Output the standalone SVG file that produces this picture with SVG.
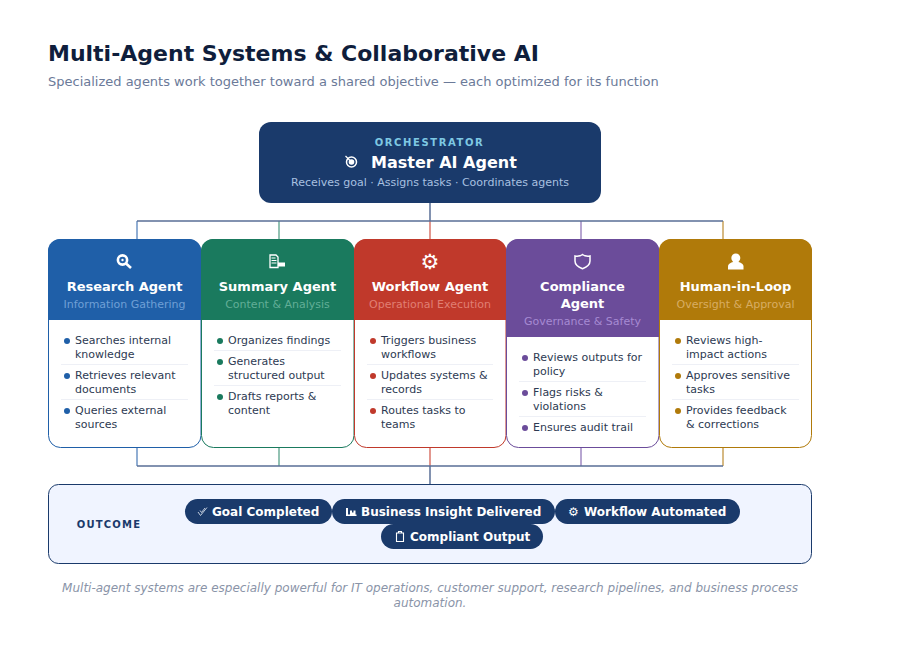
<svg xmlns="http://www.w3.org/2000/svg" width="900" height="658" viewBox="0 0 900 658">
<style>
text{font-family:"DejaVu Sans",sans-serif}
.c{text-anchor:middle}
.nm{font-size:13px;font-weight:700;fill:#fff;text-anchor:middle}
.sb{font-size:11px;text-anchor:middle}
.li{font-size:11px;fill:#2d3a52}
.sep{stroke:#eef0f6;stroke-width:1}
.pill{fill:#1a3a6b}
.pt{font-size:12px;font-weight:700;fill:#fff}
.cn{fill:none;stroke-width:1.5}
.card{fill:#fff;stroke-width:1}
.iw{fill:#fff}
.io{fill:none;stroke:#fff}
</style>
<rect width="900" height="658" fill="#fff"/>
<text x="48" y="61" fill="#0f1e3c" style="font-size:22px;font-weight:700">Multi-Agent Systems &amp; Collaborative AI</text>
<text x="48" y="86" style="font-size:13px" fill="#6b7a99">Specialized agents work together toward a shared objective — each optimized for its function</text>
<g id="connectors">
<path class="cn" stroke="#6c93c4" d="M137 221V239"/>
<path class="cn" stroke="#6fae9a" d="M279 221V239"/>
<path class="cn" stroke="#d9746a" d="M430 221V239"/>
<path class="cn" stroke="#9f88c2" d="M581 221V239"/>
<path class="cn" stroke="#c9a25a" d="M723 221V239"/>
<path class="cn" stroke="#6c93c4" d="M137 448V466"/>
<path class="cn" stroke="#6fae9a" d="M279 448V466"/>
<path class="cn" stroke="#d9746a" d="M430 448V466"/>
<path class="cn" stroke="#9f88c2" d="M581 448V466"/>
<path class="cn" stroke="#c9a25a" d="M723 448V466"/>
<path class="cn" stroke="#5a6f96" d="M430 203V221M137 221H723"/>
<path class="cn" stroke="#5a6f96" d="M137 466H723M430 466V484"/>
</g>
<g id="master">
<rect x="259" y="122" width="342" height="81" rx="12" fill="#1a3a6b"/>
<text x="429.500" y="146" class="c" style="font-size:10px;font-weight:700;letter-spacing:1.6px" fill="#7ec8e3">ORCHESTRATOR</text>
<g id="icon-target"><circle cx="351.500" cy="162" r="5" fill="none" stroke="#fff" stroke-width="1.5"/><circle cx="351.500" cy="162" r="2.800" fill="#fff"/><path d="M345.500 156l6 6" stroke="#fff" stroke-width="1.2"/></g>
<text x="371" y="168" style="font-size:16px;font-weight:700" fill="#fff">Master AI Agent</text>
<text x="430" y="186" class="c" style="font-size:11px" fill="#a8c0e0">Receives goal · Assigns tasks · Coordinates agents</text>
</g>
<g id="research">
<rect x="48.500" y="239.500" width="152.500" height="208" rx="12" class="card" stroke="#1f5fa8"/>
<path d="M48 320V251a12 12 0 0 1 12-12H189a12 12 0 0 1 12 12V320Z" fill="#1f5fa8"/>
<g><circle cx="122.500" cy="260" r="4.600" class="io" stroke-width="2.600"/><circle cx="122.500" cy="260" r="1.200" class="iw"/><path d="M126 263.500l5 4.500" class="io" stroke-width="2.600"/></g>
<text x="124.500" y="291" class="nm">Research Agent</text>
<text x="124.500" y="308" class="sb" fill="#6f9fd6">Information Gathering</text>
<circle cx="67" cy="341" r="3" fill="#1f5fa8"/><text x="75" y="344" class="li">Searches internal</text><text x="75" y="358" class="li">knowledge</text>
<line x1="61" x2="188" y1="364.500" y2="364.500" class="sep"/>
<circle cx="67" cy="376" r="3" fill="#1f5fa8"/><text x="75" y="379" class="li">Retrieves relevant</text><text x="75" y="393" class="li">documents</text>
<line x1="61" x2="188" y1="399.500" y2="399.500" class="sep"/>
<circle cx="67" cy="411" r="3" fill="#1f5fa8"/><text x="75" y="414" class="li">Queries external</text><text x="75" y="428" class="li">sources</text>
</g>
<g id="summary">
<rect x="201.500" y="239.500" width="152.500" height="208" rx="12" class="card" stroke="#1a7a5e"/>
<path d="M201 320V251a12 12 0 0 1 12-12H342a12 12 0 0 1 12 12V320Z" fill="#1a7a5e"/>
<g><path d="M270 255h6l2 2v10.500h-8Z" class="io" stroke-width="1.300"/><path d="M271.500 258h4M271.500 260.500h5M271.500 263h5" class="io" stroke-width="1"/><rect x="278" y="262.500" width="7" height="4" class="iw"/></g>
<text x="277.500" y="291" class="nm">Summary Agent</text>
<text x="277.500" y="308" class="sb" fill="#62ae97">Content &amp; Analysis</text>
<circle cx="220" cy="341" r="3" fill="#1a7a5e"/><text x="228" y="344" class="li">Organizes findings</text>
<line x1="214" x2="341" y1="350.500" y2="350.500" class="sep"/>
<circle cx="220" cy="362" r="3" fill="#1a7a5e"/><text x="228" y="365" class="li">Generates</text><text x="228" y="379" class="li">structured output</text>
<line x1="214" x2="341" y1="385.500" y2="385.500" class="sep"/>
<circle cx="220" cy="397" r="3" fill="#1a7a5e"/><text x="228" y="400" class="li">Drafts reports &amp;</text><text x="228" y="414" class="li">content</text>
</g>
<g id="workflow">
<rect x="354.500" y="239.500" width="151.500" height="208" rx="12" class="card" stroke="#c0392b"/>
<path d="M354 320V251a12 12 0 0 1 12-12H494a12 12 0 0 1 12 12V320Z" fill="#c0392b"/>
<text x="430" y="269" class="c" style="font-size:21px" fill="#fff">⚙</text>
<text x="430" y="291" class="nm">Workflow Agent</text>
<text x="430" y="308" class="sb" fill="#e07f73">Operational Execution</text>
<circle cx="373" cy="341" r="3" fill="#c0392b"/><text x="381" y="344" class="li">Triggers business</text><text x="381" y="358" class="li">workflows</text>
<line x1="367" x2="493" y1="364.500" y2="364.500" class="sep"/>
<circle cx="373" cy="376" r="3" fill="#c0392b"/><text x="381" y="379" class="li">Updates systems &amp;</text><text x="381" y="393" class="li">records</text>
<line x1="367" x2="493" y1="399.500" y2="399.500" class="sep"/>
<circle cx="373" cy="411" r="3" fill="#c0392b"/><text x="381" y="414" class="li">Routes tasks to</text><text x="381" y="428" class="li">teams</text>
</g>
<g id="compliance">
<rect x="506.500" y="239.500" width="152.500" height="208" rx="12" class="card" stroke="#6b4c9a"/>
<path d="M506 337V251a12 12 0 0 1 12-12H647a12 12 0 0 1 12 12V337Z" fill="#6b4c9a"/>
<path d="M582.500 254.500c2 1.500 4.500 2 7.500 1.500v5c0 3.500-3 6-7.500 7.800c-4.500-1.800-7.500-4.300-7.500-7.800v-5c3 .5 5.500 0 7.500-1.500Z" class="io" stroke-width="1.500"/>
<text x="582.500" y="291" class="nm">Compliance</text>
<text x="582.500" y="308" class="nm">Agent</text>
<text x="582.500" y="325" class="sb" fill="#a68ad2">Governance &amp; Safety</text>
<circle cx="525" cy="358" r="3" fill="#6b4c9a"/><text x="533" y="361" class="li">Reviews outputs for</text><text x="533" y="375" class="li">policy</text>
<line x1="519" x2="646" y1="381.500" y2="381.500" class="sep"/>
<circle cx="525" cy="393" r="3" fill="#6b4c9a"/><text x="533" y="396" class="li">Flags risks &amp;</text><text x="533" y="410" class="li">violations</text>
<line x1="519" x2="646" y1="416.500" y2="416.500" class="sep"/>
<circle cx="525" cy="428" r="3" fill="#6b4c9a"/><text x="533" y="431" class="li">Ensures audit trail</text>
</g>
<g id="human">
<rect x="659.500" y="239.500" width="152" height="208" rx="12" class="card" stroke="#b07a0a"/>
<path d="M659 320V251a12 12 0 0 1 12-12H800a12 12 0 0 1 12 12V320Z" fill="#b07a0a"/>
<g class="iw"><circle cx="735.800" cy="258" r="4.500"/><path d="M728 269.500v-3c0-2.500 3-4 5-4.500h5.500c2 .5 5 2 5 4.500v3Z"/></g>
<text x="735.500" y="291" class="nm">Human-in-Loop</text>
<text x="735.500" y="308" class="sb" fill="#d8ad62">Oversight &amp; Approval</text>
<circle cx="678" cy="341" r="3" fill="#b07a0a"/><text x="686" y="344" class="li">Reviews high-</text><text x="686" y="358" class="li">impact actions</text>
<line x1="672" x2="799" y1="364.500" y2="364.500" class="sep"/>
<circle cx="678" cy="376" r="3" fill="#b07a0a"/><text x="686" y="379" class="li">Approves sensitive</text><text x="686" y="393" class="li">tasks</text>
<line x1="672" x2="799" y1="399.500" y2="399.500" class="sep"/>
<circle cx="678" cy="411" r="3" fill="#b07a0a"/><text x="686" y="414" class="li">Provides feedback</text><text x="686" y="428" class="li">&amp; corrections</text>
</g>
<g id="outcome">
<rect x="48.500" y="484.500" width="763" height="79" rx="10" fill="#f0f4ff" stroke="#1a3a6b" stroke-width="1"/>
<text x="109" y="528" class="c" style="font-size:10px;font-weight:700;letter-spacing:1.200px" fill="#1a3a6b">OUTCOME</text>
<rect class="pill" x="185" y="499" width="147" height="25" rx="12.500"/>
<path d="M198 512l2.500 3.500 6.500-8M200 510.500l1.500 2 3.500-4.500" fill="none" stroke="#d5dde9" stroke-width=".9"/>
<text x="212" y="516" class="pt">Goal Completed</text>
<rect class="pill" x="332" y="499" width="223" height="25" rx="12.500"/>
<path d="M346 508h2v6.500h2v-4h2v2h1.500v-2h2v4h1v1.500h-10.500Z" fill="#fff"/>
<text x="361" y="516" class="pt">Business Insight Delivered</text>
<rect class="pill" x="555" y="499" width="185" height="25" rx="12.500"/>
<text x="573.500" y="515.500" class="c" style="font-size:12px;font-weight:700" fill="#fff">⚙</text>
<text x="584" y="516" class="pt">Workflow Automated</text>
<rect class="pill" x="381" y="524" width="162" height="25" rx="12.500"/>
<path d="M396.500 533h7v8.500h-7ZM398.500 533v-1.500h3v1.500" fill="none" stroke="#fff" stroke-width="1.100"/>
<text x="410" y="541" class="pt">Compliant Output</text>
</g>
<text x="430" y="592" class="c" style="font-size:12px;font-style:italic" fill="#8a94a8">Multi-agent systems are especially powerful for IT operations, customer support, research pipelines, and business process</text>
<text x="430" y="607" class="c" style="font-size:12px;font-style:italic" fill="#8a94a8">automation.</text>
</svg>
